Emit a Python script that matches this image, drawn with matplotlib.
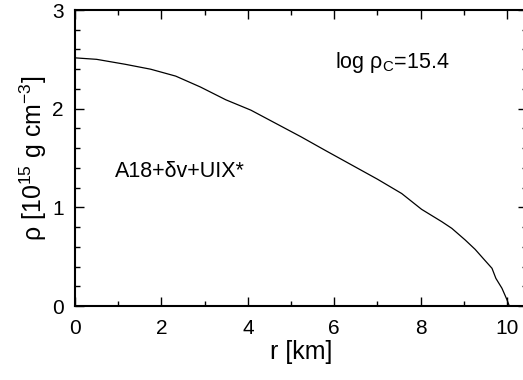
import matplotlib
matplotlib.use("Agg")
import matplotlib.pyplot as plt
from matplotlib.ticker import MultipleLocator

# density profile
r_km = [0.0, 0.5, 1.16, 1.75, 2.33, 2.9, 3.49, 4.07, 4.65, 5.23, 5.8, 6.4,
        7.0, 7.56, 8.02, 8.49, 8.72, 9.03, 9.26, 9.45, 9.65, 9.74, 9.88,
        10.0, 10.05]
rho = [2.515, 2.50, 2.45, 2.40, 2.33, 2.22, 2.09, 1.985, 1.85, 1.715, 1.575,
       1.43, 1.285, 1.14, 0.98, 0.854, 0.787, 0.669, 0.574, 0.48, 0.382,
       0.28, 0.18, 0.06, 0.0]

plt.rcParams["font.family"] = ["Liberation Sans", "DejaVu Sans"]
plt.rcParams["mathtext.fontset"] = "custom"
plt.rcParams["mathtext.rm"] = "Liberation Sans"
plt.rcParams["mathtext.it"] = "Liberation Sans"

fig = plt.figure(figsize=(5.23, 3.80), dpi=100)
# right spine sits just past the canvas edge, as in the reference crop
ax = fig.add_axes([75 / 523, 74 / 380, 452 / 523, 296 / 380])

ax.plot(r_km, rho, color="black", lw=0.9)

ax.set_xlim(0, 10.46)
ax.set_ylim(0, 3)
ax.xaxis.set_major_locator(MultipleLocator(2))
ax.xaxis.set_minor_locator(MultipleLocator(1))
ax.yaxis.set_major_locator(MultipleLocator(1))
ax.yaxis.set_minor_locator(MultipleLocator(0.2))
ax.tick_params(which="both", direction="in", top=True, right=True,
               labelsize=15, width=1)
ax.tick_params(which="major", length=6.5)
ax.tick_params(which="minor", length=3.8)
ax.tick_params(axis="x", pad=9)
ax.tick_params(axis="y", pad=8)
for s in ax.spines.values():
    s.set_linewidth(1.5)

ax.set_xlabel("r [km]", fontsize=18, labelpad=2)
ax.set_ylabel(r"ρ [10$^{15}$ g cm$^{-3}$]", fontsize=18, labelpad=2)

ax.text(6.02, 2.47, r"log ρ$_{\mathrm{C}}$=15.4", fontsize=15.5, va="center")
ax.text(0.93, 1.36, "A18+δv+UIX*", fontsize=15.5, va="center")

fig.savefig("out.png", dpi=100)
